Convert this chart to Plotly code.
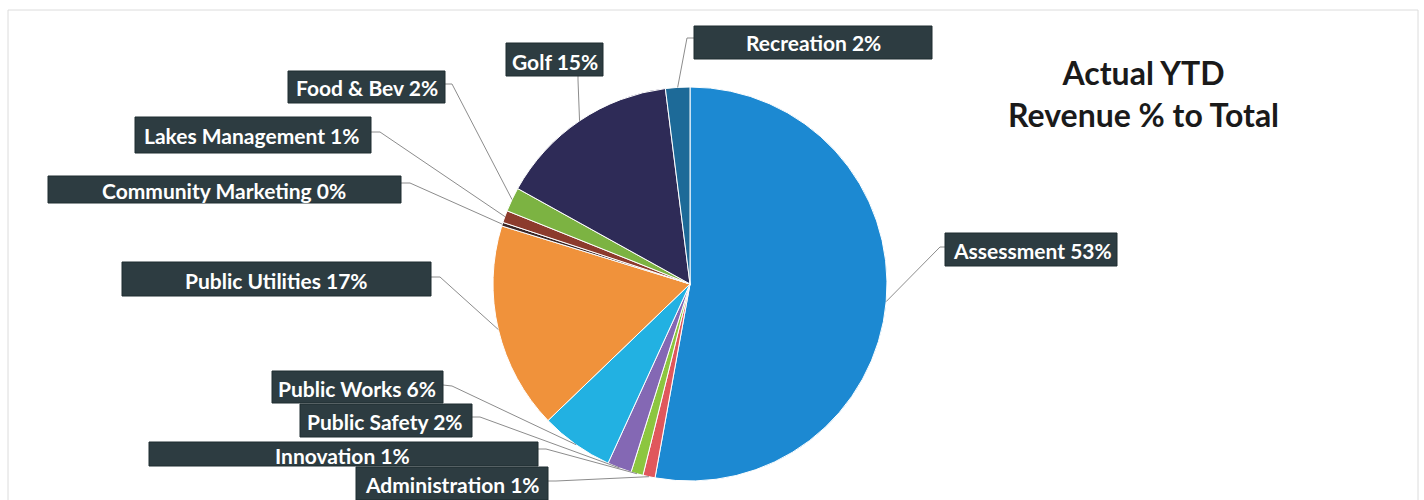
import math
import plotly.graph_objects as go

# Revenue share by department (percent of total), clockwise from 12 o'clock
departments = [
    "Assessment", "Administration", "Innovation", "Public Safety", "Public Works",
    "Public Utilities", "Community Marketing", "Lakes Management", "Food & Bev",
    "Golf", "Recreation",
]
revenue_pct = [53, 1, 1, 2, 6, 17, 0.3, 1, 2, 15, 2]
slice_colors = [
    "#1c89d2", "#e0575c", "#8cc63f", "#8468b4", "#22b1e2",
    "#f0923b", "#3b2626", "#8c3b2c", "#7cb342", "#2e2b57", "#1d6a98",
]

W, H = 1424, 500
CX, CY, R = 690, 284, 197          # pie centre / radius in pixels

# Label box geometry in pixels: (x0, y0, x1, y1), text centre, leader elbow
label_boxes = {
    "Assessment":          ((945, 233, 1117, 266), (1032, 250), [(945, 247), (940, 247)]),
    "Administration":      ((356, 467, 548, 500), (452, 484), [(548, 481), (556, 481)]),
    "Innovation":          ((149, 442, 538, 466), (342, 455), [(538, 449), (546, 449)]),
    "Public Safety":       ((300, 404, 472, 437), (385, 421), [(472, 417), (480, 417)]),
    "Public Works":        ((272, 371, 443, 403), (357, 388), [(443, 385), (452, 386)]),
    "Public Utilities":    ((122, 262, 431, 296), (276, 280), [(431, 277), (440, 277)]),
    "Community Marketing": ((48, 176, 401, 203), (224, 190), [(401, 183), (410, 183)]),
    "Lakes Management":    ((135, 117, 371, 153), (252, 135), [(371, 132), (380, 132)]),
    "Food & Bev":          ((288, 71, 445, 103), (367, 88), [(445, 84), (452, 84)]),
    "Golf":                ((506, 43, 603, 76), (555, 61), [(578, 76), (578, 80)]),
    "Recreation":          ((694, 26, 932, 59), (813, 43), [(694, 38), (687, 38)]),
}


def px(x):
    return x / W


def py(y):
    return 1 - y / H


fig = go.Figure(
    go.Pie(
        labels=departments,
        values=revenue_pct,
        sort=False,
        direction="clockwise",
        rotation=0,
        textinfo="none",
        hoverinfo="label+percent",
        marker=dict(colors=slice_colors, line=dict(color="#ffffff", width=1)),
        domain=dict(x=[px(CX - R), px(CX + R)], y=[py(CY + R), py(CY - R)]),
        showlegend=False,
    )
)

total = sum(revenue_pct)
shapes = [
    dict(type="rect", xref="paper", yref="paper",
         x0=px(8), y0=py(510), x1=px(1418), y1=py(10),
         line=dict(color="#dcdcdc", width=1), fillcolor="rgba(0,0,0,0)", layer="below"),
]
annotations = []

cum = 0.0
for name, val in zip(departments, revenue_pct):
    mid = (cum + val / 2) / total * 2 * math.pi
    cum += val
    rim_x = CX + R * math.sin(mid)
    rim_y = CY - R * math.cos(mid)
    (x0, y0, x1, y1), (tx, ty), elbow = label_boxes[name]

    pts = elbow + [(rim_x, rim_y)]
    path = "M " + " L ".join(f"{px(a):.5f},{py(b):.5f}" for a, b in pts)
    shapes.append(dict(type="path", xref="paper", yref="paper", path=path,
                       line=dict(color="#8c8c8c", width=1), layer="above"))
    shapes.append(dict(type="rect", xref="paper", yref="paper",
                       x0=px(x0), y0=py(y1), x1=px(x1), y1=py(y0),
                       line=dict(color="#1f2c30", width=1), fillcolor="#2d3c41",
                       layer="above"))
    pct = round(val / total * 100)
    annotations.append(dict(
        x=px(tx), y=py(ty), xref="paper", yref="paper", showarrow=False,
        xanchor="center", yanchor="middle",
        text=f"<b>{name} {pct}%</b>",
        font=dict(family="Lato", size=21, color="#ffffff"),
    ))

annotations.append(dict(
    x=px(1143), y=py(94), xref="paper", yref="paper", showarrow=False,
    xanchor="center", yanchor="middle",
    text="<b>Actual YTD<br>Revenue % to Total</b>",
    font=dict(family="Lato", size=32, color="#1a1a1a"),
))

fig.update_layout(
    width=W, height=H,
    margin=dict(l=0, r=0, t=0, b=0),
    paper_bgcolor="#ffffff",
    plot_bgcolor="#ffffff",
    shapes=shapes,
    annotations=annotations,
)

fig.write_html("out.html")
